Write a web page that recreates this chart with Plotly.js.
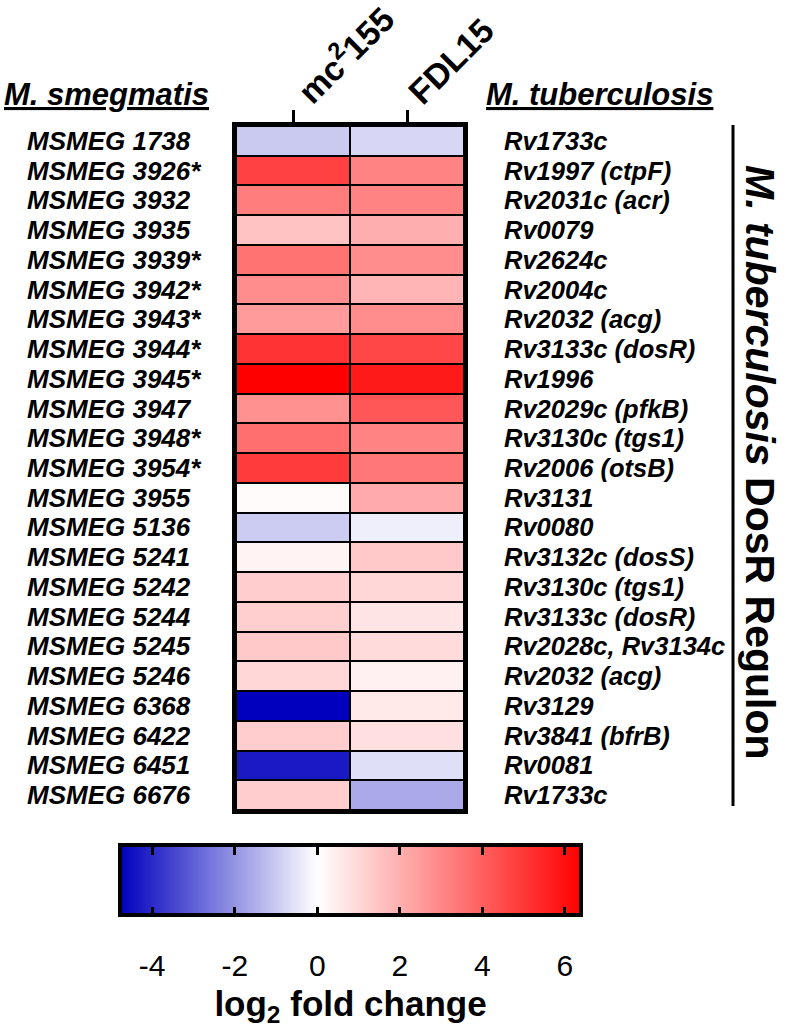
<!DOCTYPE html>
<html>
<head>
<meta charset="utf-8">
<script src="https://cdn.plot.ly/plotly-3.0.1.min.js"></script>
<style>html,body{margin:0;padding:0;background:#fff;}#chart{width:787px;height:1036px;}</style>
</head>
<body>
<div id="chart"></div>
<script>
// ---------- DATA ----------
var smegGenes = ['MSMEG 1738','MSMEG 3926*','MSMEG 3932','MSMEG 3935','MSMEG 3939*','MSMEG 3942*','MSMEG 3943*','MSMEG 3944*','MSMEG 3945*','MSMEG 3947','MSMEG 3948*','MSMEG 3954*','MSMEG 3955','MSMEG 5136','MSMEG 5241','MSMEG 5242','MSMEG 5244','MSMEG 5245','MSMEG 5246','MSMEG 6368','MSMEG 6422','MSMEG 6451','MSMEG 6676'];
var tbGenes = ['Rv1733c','Rv1997 (ctpF)','Rv2031c (acr)','Rv0079','Rv2624c','Rv2004c','Rv2032 (acg)','Rv3133c (dosR)','Rv1996','Rv2029c (pfkB)','Rv3130c (tgs1)','Rv2006 (otsB)','Rv3131','Rv0080','Rv3132c (dosS)','Rv3130c (tgs1)','Rv3133c (dosR)','Rv2028c, Rv3134c','Rv2032 (acg)','Rv3129','Rv3841 (bfrB)','Rv0081','Rv1733c'];
var strains = ['mc2155','FDL15'];
var strainLabels = ['mc<sup>2</sup>155','FDL15'];
var mc155 = [-1.0, 4.75, 3.25, 1.5, 3.5, 2.85, 2.5, 5.1, 6.39, 2.75, 3.6, 4.9, 0.1, -0.95, 0.3, 1.25, 1.2, 1.35, 1.0, -4.78, 1.25, -4.3, 1.25];
var fdl15 = [-0.75, 3.1, 3.1, 2.0, 2.85, 1.85, 2.85, 4.6, 5.75, 4.2, 3.1, 3.4, 2.1, -0.3, 1.35, 1.0, 0.65, 0.9, 0.35, 0.55, 0.8, -0.6, -1.6];
var cbTickVals = [-4, -2, 0, 2, 4, 6];
var cbTickText = ['-4', '-2', '0', '2', '4', '6'];

// ---------- BUILD ----------
var W = 787, H = 1036;
function px(x){ return x / W; }
function py(y){ return 1 - y / H; }

var z = smegGenes.map(function(_, i){ return [mc155[i], fdl15[i]]; });
var all = mc155.concat(fdl15);
var zmin = Math.min.apply(null, all), zmax = Math.max.apply(null, all);
var mid = -zmin / (zmax - zmin);
var cscale = [[0, 'rgb(0,0,190)'], [mid, 'rgb(255,255,255)'], [1, 'rgb(255,0,0)']];
var clear = [[0, 'rgba(0,0,0,0)'], [1, 'rgba(0,0,0,0)']];

var FONT = 'Liberation Sans, Arial, sans-serif';
var CB_X = px(120), CB_LEN = 461, CB_TOP = 845, CB_BOT = 915, TICK = 10;

var heat = {
  type: 'heatmap', x: strains, y: smegGenes, z: z,
  zmin: zmin, zmax: zmax, colorscale: cscale,
  xgap: 2, ygap: 2, hoverinfo: 'skip',
  colorbar: {
    orientation: 'h', x: CB_X, xanchor: 'left', y: py(CB_TOP), yanchor: 'top',
    len: CB_LEN, lenmode: 'pixels', thickness: CB_BOT - CB_TOP, thicknessmode: 'pixels',
    xpad: 0, ypad: 0, outlinewidth: 4, outlinecolor: '#000',
    tickmode: 'array', tickvals: cbTickVals, ticktext: cbTickText,
    ticks: 'inside', ticklen: TICK, tickwidth: 3, tickcolor: '#000', showticklabels: false
  }
};
// transparent copy whose colour bar only supplies the tick marks on the top edge
var heatTopTicks = {
  type: 'heatmap', x: strains, y: smegGenes, z: z,
  zmin: zmin, zmax: zmax, colorscale: clear,
  xgap: 2, ygap: 2, hoverinfo: 'skip',
  colorbar: {
    orientation: 'h', x: CB_X, xanchor: 'left', y: py(CB_TOP + TICK), yanchor: 'bottom',
    len: CB_LEN, lenmode: 'pixels', thickness: 6, thicknessmode: 'pixels',
    xpad: 0, ypad: 0, outlinewidth: 0,
    tickmode: 'array', tickvals: cbTickVals, ticktext: cbTickText,
    ticks: 'outside', ticklen: TICK, tickwidth: 3, tickcolor: '#000', showticklabels: false
  }
};
var dummy = { type: 'scatter', x: [], y: [], xaxis: 'x3', yaxis: 'y3', hoverinfo: 'skip', showlegend: false };

var annotations = [];
smegGenes.forEach(function(g){
  annotations.push({ xref: 'paper', yref: 'y', x: px(25), y: g, xanchor: 'left', yanchor: 'middle',
    text: '<b><i>' + g + '</i></b>', showarrow: false, font: { family: FONT, size: 26, color: '#000' } });
});
tbGenes.forEach(function(g, i){
  annotations.push({ xref: 'paper', yref: 'y', x: px(502), y: smegGenes[i], xanchor: 'left', yanchor: 'middle',
    text: '<b><i>' + g + '</i></b>', showarrow: false, font: { family: FONT, size: 25.5, color: '#000' } });
});
strains.forEach(function(s, i){
  annotations.push({ xref: 'x', yref: 'paper', x: s, y: py(114), xanchor: 'left', yanchor: 'bottom', xshift: -9,
    textangle: -45, text: '<b>' + strainLabels[i] + '</b>', showarrow: false,
    font: { family: FONT, size: 34, color: '#000' } });
});
annotations.push({ xref: 'paper', yref: 'paper', x: px(2), y: py(94), xanchor: 'left', yanchor: 'middle',
  text: '<b><i><u>M. smegmatis</u></i></b>', showarrow: false, font: { family: FONT, size: 31, color: '#000' } });
annotations.push({ xref: 'paper', yref: 'paper', x: px(484), y: py(94), xanchor: 'left', yanchor: 'middle',
  text: '<b><i><u>M. tuberculosis</u></i></b>', showarrow: false, font: { family: FONT, size: 31, color: '#000' } });
annotations.push({ xref: 'paper', yref: 'paper', x: px(760), y: py(462), xanchor: 'center', yanchor: 'middle',
  textangle: 90, text: '<b><i>M. tuberculosis</i> DosR Regulon</b>', showarrow: false,
  font: { family: FONT, size: 41, color: '#000' } });

var layout = {
  width: W, height: H, margin: { l: 0, r: 0, t: 0, b: 0 },
  paper_bgcolor: '#fff', plot_bgcolor: '#000', showlegend: false,
  font: { family: FONT, color: '#000' },
  xaxis: {
    domain: [px(236), px(464)], side: 'top', type: 'category',
    range: [-0.5, strains.length - 0.5], autorange: false,
    tickvals: strains, showticklabels: false,
    ticks: 'outside', ticklen: 12, tickwidth: 3, tickcolor: '#000',
    showline: true, linewidth: 4, linecolor: '#000', mirror: true,
    showgrid: false, zeroline: false, fixedrange: true
  },
  yaxis: {
    domain: [py(810), py(126)], type: 'category',
    range: [smegGenes.length - 0.5, -0.5], autorange: false,
    showticklabels: false, ticks: '',
    showline: true, linewidth: 4, linecolor: '#000', mirror: true,
    showgrid: false, zeroline: false, fixedrange: true
  },
  xaxis3: {
    domain: [CB_X, px(120 + CB_LEN)], anchor: 'y3', range: [zmin, zmax],
    tickmode: 'array', tickvals: cbTickVals, ticktext: cbTickText,
    ticks: '', ticklabelstandoff: 30,
    showline: false, showgrid: false, zeroline: false,
    tickfont: { family: FONT, size: 30, color: '#000' },
    title: { text: '<b>log<sub>2</sub> fold change</b>', font: { family: FONT, size: 35, color: '#000' }, standoff: 10 },
    fixedrange: true
  },
  yaxis3: {
    domain: [py(CB_BOT), py(CB_TOP)], anchor: 'x3', range: [0, 1],
    visible: false, fixedrange: true
  },
  shapes: [{
    type: 'line', xref: 'paper', yref: 'paper', x0: px(733), x1: px(733), y0: py(125), y1: py(806),
    line: { color: '#000', width: 3 }
  }],
  annotations: annotations
};

Plotly.newPlot('chart', [heat, heatTopTicks, dummy], layout, { displayModeBar: false, staticPlot: true });
</script>
</body>
</html>
